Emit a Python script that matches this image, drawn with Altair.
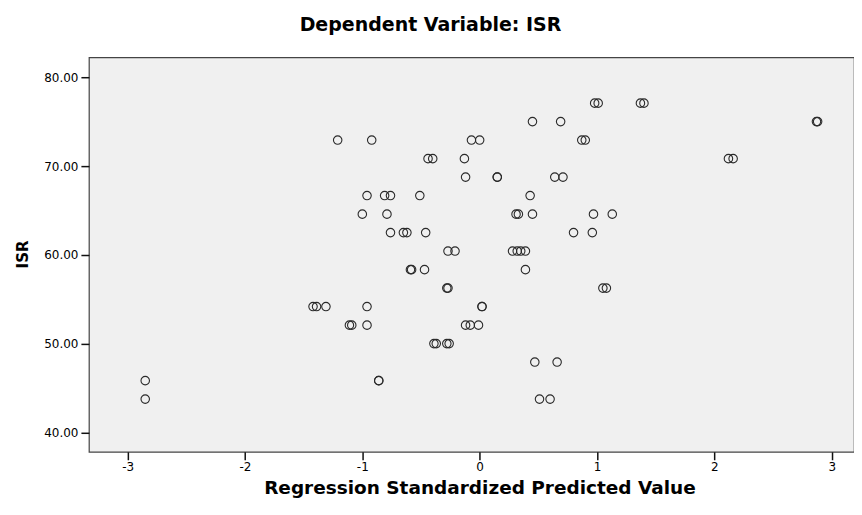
import altair as alt
import pandas as pd

# Regression Standardized Predicted Value (x) and ISR (y), read row by row
isr_levels = [77.08, 75.00, 72.92, 70.83, 68.75, 66.67, 64.58, 62.50, 60.42,
              58.33, 56.25, 54.17, 52.08, 50.00, 47.92, 45.83, 43.75]
pred_by_level = [
    [0.98, 1.01, 1.37, 1.40],
    [0.45, 0.69, 2.87, 2.88],
    [-1.21, -0.92, -0.07, 0.00, 0.87, 0.90],
    [-0.44, -0.40, -0.13, 2.12, 2.16],
    [-0.12, 0.15, 0.15, 0.64, 0.71],
    [-0.96, -0.81, -0.76, -0.51, 0.43],
    [-1.00, -0.79, 0.31, 0.33, 0.45, 0.97, 1.13],
    [-0.76, -0.65, -0.62, -0.46, 0.80, 0.96],
    [-0.27, -0.21, 0.28, 0.32, 0.35, 0.39],
    [-0.59, -0.58, -0.47, 0.39],
    [-0.28, -0.27, 1.05, 1.08],
    [-1.42, -1.39, -1.31, -0.96, 0.02, 0.02],
    [-1.11, -1.09, -0.96, -0.12, -0.08, -0.01],
    [-0.39, -0.37, -0.28, -0.26],
    [0.47, 0.66],
    [-2.85, -0.86, -0.86],
    [-2.85, 0.51, 0.60],
]

x_ticks = [-3, -2, -1, 0, 1, 2, 3]
y_ticks = [40, 50, 60, 70, 80]

rows = []
for lvl, xs in zip(isr_levels, pred_by_level):
    for xv in xs:
        rows.append({"pred": xv, "isr": lvl})
df = pd.DataFrame(rows)

TFONT = "DejaVu Sans"
LFONT = "DejaVu Sans"

chart = alt.Chart(df).mark_point(
    shape="circle", filled=False, size=72, stroke="#2a2a2a", strokeWidth=1.1, opacity=1
).encode(
    x=alt.X("pred:Q",
            scale=alt.Scale(domain=[-3.33, 3.19], nice=False, zero=False),
            axis=alt.Axis(values=x_ticks, labelExpr="'' + datum.value", grid=False,
                          title="Regression Standardized Predicted Value",
                          titleX=391, titleY=42, titleBaseline="alphabetic",
                          titleFontSize=18.5, titleFontWeight="bold", titleFont=TFONT,
                          titleColor="#000",
                          labelFont=LFONT, labelFontSize=12, labelColor="#000",
                          tickSize=8, tickColor="#111", tickWidth=1.5, labelPadding=2,
                          domain=False)),
    y=alt.Y("isr:Q",
            scale=alt.Scale(domain=[37.82, 82.25], nice=False, zero=False),
            axis=alt.Axis(values=y_ticks, format=".2f", grid=False,
                          title="ISR", titleX=-61, titleY=197,
                          titleBaseline="alphabetic", titleAngle=-90,
                          titleFontSize=15, titleFontWeight="bold", titleFont=TFONT,
                          titleColor="#000",
                          labelFont=LFONT, labelFontSize=12, labelColor="#000",
                          tickSize=8, tickColor="#111", tickWidth=1.5, labelPadding=3,
                          domain=False)),
).properties(
    width=766, height=395,
    title=alt.TitleParams("Dependent Variable: ISR", anchor="middle", dx=-41,
                          font=TFONT, fontSize=19, fontWeight="bold", color="#000",
                          offset=22),
    padding={"left": 81, "top": 49, "right": 0, "bottom": 55},
    autosize=alt.AutoSizeParams(type="none"),
).configure(
    background="white",
    view=alt.ViewConfig(fill="#F0F0F0", stroke="#444444", strokeWidth=1.2),
)

chart.save("out.html", embed_options={"renderer": "svg", "actions": False})
